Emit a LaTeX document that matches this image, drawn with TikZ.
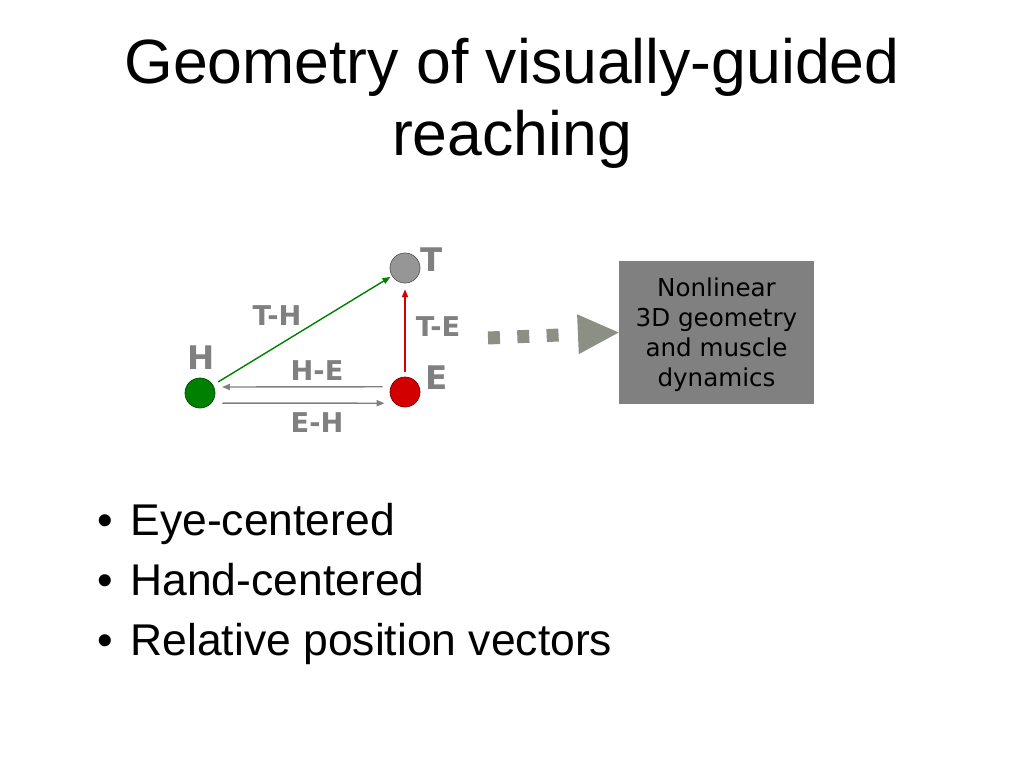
\documentclass[tikz,border=0pt]{standalone}
\usepackage{fontspec}
\setmainfont{Liberation Sans}
\newfontfamily\verdanafont{DejaVu Sans}
\usepackage{tikz}
\usetikzlibrary{arrows.meta}
\definecolor{handgreen}{RGB}{0,128,0}
\definecolor{eyered}{RGB}{210,0,0}
\definecolor{targetgray}{RGB}{150,150,150}
\definecolor{flowgray}{RGB}{140,144,132}
\definecolor{boxgray}{RGB}{128,128,128}

\begin{document}
\begin{tikzpicture}[
x=0.02cm, y=-0.02cm,
MyDots/.style={circle,draw=#1!60!black,fill=#1,inner sep=0pt,minimum size=0.6cm,thin},
Letters/.style={text=gray,font=\verdanafont\bfseries\fontsize{18.5}{18.5}\selectfont},
Labels/.style={text=gray,font=\verdanafont\bfseries\fontsize{15.5}{15.5}\selectfont},
Vectors/.style={line width=0.8pt,-{Triangle[length=4.5pt,width=3.5pt]}},
every node/.style={scale=1}
]
\useasboundingbox (0,0) rectangle (1024,768);

% title
\node[anchor=north,inner sep=0pt,align=center,font=\fontsize{35.6}{41}\selectfont] (title) at (512,38)
{Geometry of visually-guided\\reaching};

% hand, eye and target
\node[MyDots=handgreen]  (H) at (200,393) {};
\node[MyDots=eyered]     (E) at (405,392) {};
\node[MyDots=targetgray] (T) at (405,268) {};

\node[Letters] (Hlabel) at (201,358) {H};
\node[Letters] (Elabel) at (437,378) {E};
\node[Letters] (Tlabel) at (432,260) {T};

% relative position vectors
\draw[Vectors,handgreen,shorten <=3.4pt,shorten >=1pt] (H) -- (T);
\draw[Vectors,eyered,shorten <=2.8pt,shorten >=3.4pt] (E) -- (T);
\draw[Vectors,gray,shorten <=4.5pt,shorten >=4.5pt] (E.160.5) -- (H.23.6);
\draw[Vectors,gray,shorten <=6.2pt,shorten >=5.7pt] (H.-41.8) -- (E.-133);

\node[Labels] (TH) at (277,316) {T-H};
\node[Labels] (TE) at (438,327) {T-E};
\node[Labels] (HE) at (317,371) {H-E};
\node[Labels] (EH) at (317,423) {E-H};

% box on the right
\node[fill=boxgray,minimum width=3.9cm,minimum height=2.86cm,
font=\verdanafont\fontsize{14}{17}\selectfont] (Box) at (716.5,332.5)
{\raisebox{-1.8pt}[\height][\depth]{\begin{tabular}{@{}c@{}}Nonlinear\\3D geometry\\and muscle\\dynamics\end{tabular}}};

\coordinate (flow) at (488,338);
\draw[flowgray,line width=7.4pt,
dash pattern=on 6.8pt off 9.9pt on 6.8pt off 9.9pt on 6.8pt off 40pt,
-{Triangle[length=23.2pt,width=22.7pt,line width=0pt]}] (flow) -- (Box.west);

% bullets
\node[anchor=north west,inner sep=0pt,align=left,font=\fontsize{25.3}{34}\selectfont] (bullets) at (97,503)
{\textbullet\hspace{10pt}Eye-centered\\
\textbullet\hspace{10pt}Hand-centered\\
\textbullet\hspace{10pt}Relative position vectors};

\end{tikzpicture}
\end{document}
